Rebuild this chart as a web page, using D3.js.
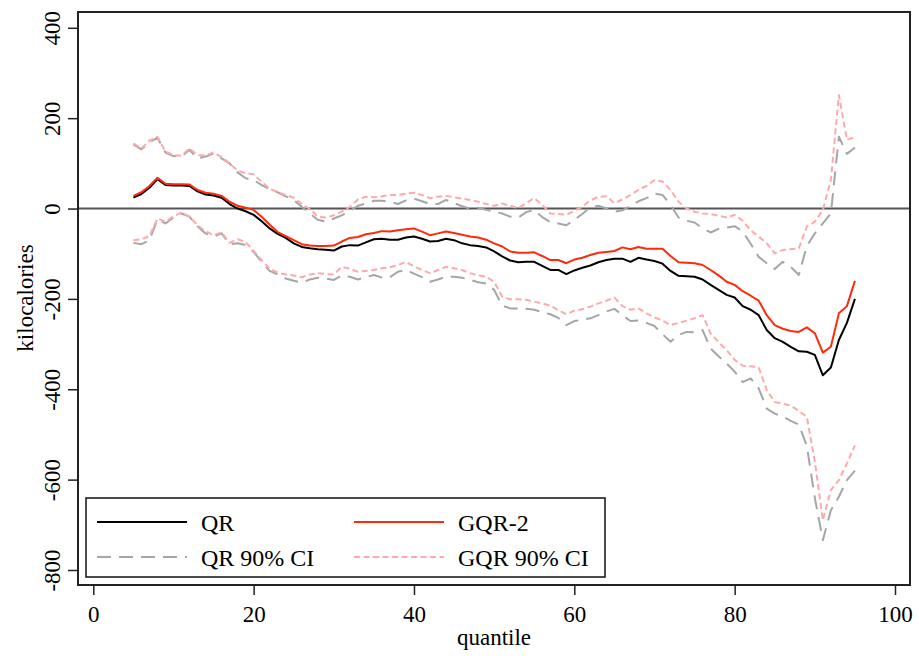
<!DOCTYPE html>
<html><head><meta charset="utf-8">
<script src="https://cdn.jsdelivr.net/npm/d3@7/dist/d3.min.js"></script>
<style>
html,body{margin:0;padding:0;background:#fff;}
svg{display:block;font-family:"Liberation Serif","Times New Roman",serif;}
</style></head>
<body><svg id="c" width="919" height="656"></svg>
<script>
const quantiles = d3.range(5, 96);
const qr = [24,32,46,65,52,51,51,50,38,31,29,24,10,0,-6,-14,-28,-44,-56,-65,-77,-85,-88,-90,-91,-93,-84,-81,-82,-75,-68,-67,-69,-69,-64,-62,-67,-73,-72,-67,-70,-77,-81,-83,-86,-95,-106,-115,-119,-118,-118,-127,-136,-136,-145,-137,-131,-126,-119,-114,-111,-111,-118,-109,-113,-116,-122,-138,-149,-150,-151,-157,-169,-180,-191,-197,-216,-224,-236,-269,-287,-295,-306,-316,-317,-324,-369,-352,-291,-253,-200];
const gqr = [28,36,50,68,55,54,54,53,41,35,33,28,15,6,2,-3,-18,-36,-52,-61,-70,-79,-82,-83,-83,-82,-73,-65,-63,-57,-54,-50,-51,-48,-46,-44,-51,-59,-55,-51,-54,-58,-62,-64,-69,-77,-84,-95,-98,-98,-97,-105,-114,-114,-121,-113,-109,-103,-98,-96,-94,-86,-90,-85,-89,-89,-89,-105,-119,-120,-121,-125,-136,-148,-162,-169,-183,-193,-204,-236,-258,-266,-271,-273,-263,-276,-319,-306,-232,-216,-160];
const qrHi = [142,131,146,157,124,116,115,130,111,115,122,111,100,80,67,63,52,43,36,27,19,4,-11,-25,-29,-22,-15,-5,6,11,17,17,15,10,18,22,16,10,10,19,12,5,0,2,-3,-7,-11,-18,-20,-8,-3,-19,-30,-33,-37,-25,-12,3,6,0,-7,-4,6,16,23,33,30,8,-20,-27,-31,-44,-53,-45,-42,-39,-51,-78,-107,-121,-134,-118,-129,-147,-83,-55,-33,-11,159,121,135];
const gqrHi = [144,133,150,159,126,118,117,133,118,118,124,114,100,84,78,76,59,44,36,30,24,10,-1,-18,-20,-15,-7,4,20,26,25,27,30,30,33,35,30,23,26,28,25,22,19,15,10,6,11,6,1,12,23,8,-11,-12,-14,-5,4,18,26,27,12,20,30,41,50,63,60,41,15,0,-7,-11,-12,-16,-20,-14,-27,-48,-62,-77,-99,-92,-90,-88,-40,-29,-3,63,251,152,158];
const qrLo = [-76,-79,-70,-24,-33,-20,-11,-18,-39,-55,-62,-55,-79,-77,-81,-96,-118,-138,-146,-155,-160,-164,-157,-153,-155,-158,-148,-151,-157,-152,-147,-153,-152,-140,-136,-144,-152,-162,-157,-151,-151,-153,-158,-163,-166,-180,-215,-221,-221,-222,-224,-229,-234,-242,-258,-249,-246,-243,-236,-228,-222,-236,-249,-248,-253,-260,-278,-295,-280,-273,-274,-269,-310,-327,-343,-361,-384,-376,-398,-443,-454,-460,-470,-478,-525,-640,-734,-668,-638,-601,-580];
const gqrLo = [-70,-68,-61,-22,-29,-17,-9,-18,-37,-50,-59,-53,-76,-68,-74,-94,-114,-133,-142,-146,-148,-152,-146,-143,-145,-146,-129,-133,-140,-138,-136,-132,-130,-125,-118,-128,-136,-143,-136,-129,-132,-136,-143,-148,-151,-162,-195,-201,-201,-202,-206,-210,-215,-225,-234,-226,-223,-217,-210,-204,-197,-216,-224,-221,-232,-241,-248,-258,-253,-248,-243,-236,-276,-296,-313,-335,-348,-349,-352,-402,-428,-432,-436,-448,-461,-560,-690,-623,-601,-564,-524];
const xTicks = [0,20,40,60,80,100];
const yTicks = [-800,-600,-400,-200,0,200,400];
const legendItems = ["QR","GQR-2","QR 90% CI","GQR 90% CI"];

const svg = d3.select("#c");
const x = d3.scaleLinear().domain([0,100]).range([93.3,895]);
const y = d3.scaleLinear().domain([-800,400]).range([570,27.8]);
const fmt = d => String(d);

// zero line
svg.append("line").attr("x1",78).attr("x2",910).attr("y1",y(0)).attr("y2",y(0))
  .attr("stroke","#555").attr("stroke-width",2);

const line = arr => d3.line().x((d,i)=>x(quantiles[i])).y(d=>y(d))(arr);
const styles = {
  qrci:{stroke:"#a6a6a6",w:2,dash:"14,8"},
  gqrci:{stroke:"#ffaaaa",w:2,dash:"6,3.5"},
  qr:{stroke:"#000",w:2,dash:null},
  gqr:{stroke:"#ff2a0a",w:2,dash:null}
};
function draw(arr, s){
  svg.append("path").attr("d",line(arr)).attr("fill","none")
    .attr("stroke",s.stroke).attr("stroke-width",s.w)
    .attr("stroke-dasharray",s.dash).attr("stroke-linejoin","round");
}
draw(qrHi,styles.qrci); draw(qrLo,styles.qrci);
draw(gqrHi,styles.gqrci); draw(gqrLo,styles.gqrci);
draw(qr,styles.qr); draw(gqr,styles.gqr);

// frame
svg.append("rect").attr("x",78).attr("y",12).attr("width",832).attr("height",573)
  .attr("fill","none").attr("stroke","#222").attr("stroke-width",2);

// axes
const xa = svg.append("g").attr("transform","translate(0,585)")
  .call(d3.axisBottom(x).tickValues(xTicks).tickSize(10).tickSizeOuter(0).tickFormat(fmt));
xa.select(".domain").remove();
xa.selectAll("line").attr("stroke","#222").attr("stroke-width",1.5);
xa.selectAll("text").attr("font-size",23).attr("fill","#000").attr("dy",0).attr("y",37)
  .attr("font-family","Liberation Serif");

const ya = svg.append("g").attr("transform","translate(78,0)")
  .call(d3.axisLeft(y).tickValues(yTicks).tickSize(10).tickSizeOuter(0).tickFormat(fmt));
ya.select(".domain").remove();
ya.selectAll("line").attr("stroke","#222").attr("stroke-width",1.5);
ya.selectAll("text").attr("font-size",23).attr("fill","#000")
  .attr("x",null).attr("dy",null)
  .attr("transform","translate(-18,0) rotate(-90)")
  .attr("text-anchor","middle").attr("y",0)
  .attr("font-family","Liberation Serif");

svg.append("text").attr("x",494).attr("y",645).attr("text-anchor","middle")
  .attr("font-size",23).text("quantile");
svg.append("text").attr("transform","translate(33,298) rotate(-90)").attr("text-anchor","middle")
  .attr("font-size",23).text("kilocalories");

// legend
const lg = svg.append("g");
lg.append("rect").attr("x",86).attr("y",498).attr("width",519).attr("height",79)
  .attr("fill","#fff").attr("stroke","#111").attr("stroke-width",1.5);
const lpos = [[97,522,styles.qr],[354,522,styles.gqr],[97,557,styles.qrci],[354,557,styles.gqrci]];
legendItems.forEach((t,i)=>{
  const [lx,ly,s] = lpos[i];
  lg.append("line").attr("x1",lx).attr("x2",lx+90).attr("y1",ly).attr("y2",ly)
    .attr("stroke",s.stroke).attr("stroke-width",s.w).attr("stroke-dasharray",s.dash);
  lg.append("text").attr("x",lx+104).attr("y",ly+9).attr("font-size",24).text(t);
});
</script></body></html>
